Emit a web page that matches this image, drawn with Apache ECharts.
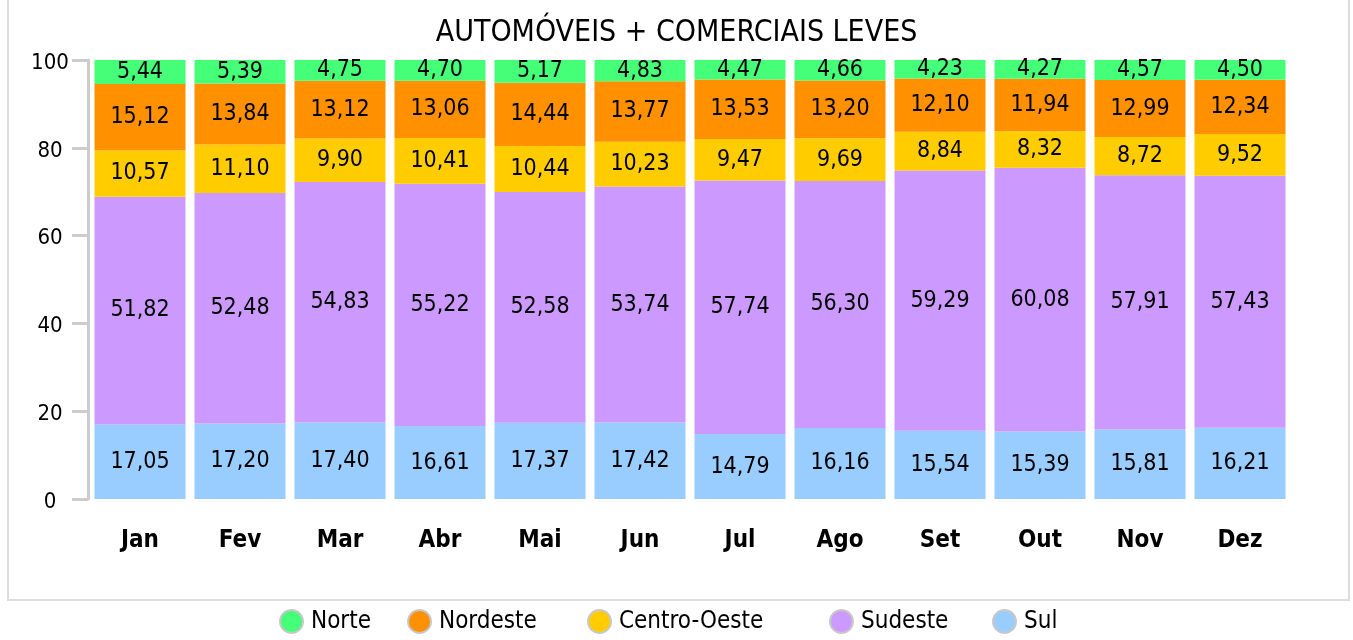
<!DOCTYPE html>
<html>
<head>
<meta charset="utf-8">
<title>Automóveis + Comerciais Leves</title>
<script src="https://cdn.jsdelivr.net/npm/echarts@6/dist/echarts.min.js"></script>
<style>
  html, body { margin: 0; padding: 0; background: #fff; }
  #main { width: 1353px; height: 640px; }
</style>
</head>
<body>
<div id="main"></div>
<script>
// dados (% por região)
const months = ['Jan', 'Fev', 'Mar', 'Abr', 'Mai', 'Jun', 'Jul', 'Ago', 'Set', 'Out', 'Nov', 'Dez']
const norte = [5.44, 5.39, 4.75, 4.70, 5.17, 4.83, 4.47, 4.66, 4.23, 4.27, 4.57, 4.50]
const nordeste = [15.12, 13.84, 13.12, 13.06, 14.44, 13.77, 13.53, 13.20, 12.10, 11.94, 12.99, 12.34]
const centroOeste = [10.57, 11.10, 9.90, 10.41, 10.44, 10.23, 9.47, 9.69, 8.84, 8.32, 8.72, 9.52]
const sudeste = [51.82, 52.48, 54.83, 55.22, 52.58, 53.74, 57.74, 56.30, 59.29, 60.08, 57.91, 57.43]
const sul = [17.05, 17.20, 17.40, 16.61, 17.37, 17.42, 14.79, 16.16, 15.54, 15.39, 15.81, 16.21]

const FONT = '"DejaVu Sans Condensed", "DejaVu Sans", sans-serif'

// empilhado de baixo para cima
const stackOrder = [
  { name: 'Sul', data: sul, color: '#99CCFF' },
  { name: 'Sudeste', data: sudeste, color: '#CC99FF' },
  { name: 'Centro-Oeste', data: centroOeste, color: '#FFCC00' },
  { name: 'Nordeste', data: nordeste, color: '#FF9000' },
  { name: 'Norte', data: norte, color: '#44FF77' }
]

// legenda: um componente por item para acertar o espaçamento
const legendPos = [
  ['Norte', 279],
  ['Nordeste', 407],
  ['Centro-Oeste', 587],
  ['Sudeste', 829],
  ['Sul', 992]
]

const myChart = echarts.init(document.getElementById('main'))

myChart.setOption({
  animation: false,
  textStyle: { fontFamily: FONT },
  title: {
    text: 'AUTOMÓVEIS + COMERCIAIS LEVES',
    left: 'center',
    top: 13,
    textStyle: { fontFamily: FONT, fontSize: 30, fontWeight: 'normal', color: '#000' }
  },
  // moldura cinza
  graphic: [{
    type: 'rect',
    shape: { x: 8, y: -10, width: 1341, height: 610 },
    style: { fill: 'none', stroke: '#dddddd', lineWidth: 2 },
    silent: true
  }],
  legend: legendPos.map(([name, left]) => ({
    left: left,
    top: 609,
    padding: 0,
    icon: 'circle',
    itemWidth: 23,
    itemHeight: 23,
    itemStyle: { borderColor: '#c8c8c8', borderWidth: 2 },
    data: [name],
    textStyle: { fontFamily: FONT, fontSize: 24, color: '#000', padding: [2, 0, 0, 3] }
  })),
  grid: {
    left: 90,
    right: 63,
    top: 60,
    bottom: 141
  },
  xAxis: {
    type: 'category',
    data: months,
    axisLine: { show: false },
    axisTick: { show: false },
    axisLabel: {
      margin: 30,
      color: '#000',
      fontFamily: FONT,
      fontSize: 24,
      fontWeight: 'bold'
    }
  },
  yAxis: {
    type: 'value',
    min: 0,
    max: 100,
    interval: 20,
    offset: 2,
    splitLine: { show: false },
    axisLine: { show: true, lineStyle: { color: '#cccccc', width: 3 } },
    axisTick: { show: true, length: 16, lineStyle: { color: '#cccccc', width: 3 } },
    axisLabel: {
      margin: 38,
      align: 'center',
      verticalAlign: 'top',
      padding: [-8, 0, 0, 0],
      color: '#000',
      fontFamily: FONT,
      fontSize: 22
    }
  },
  series: stackOrder.map(s => ({
    name: s.name,
    type: 'bar',
    stack: 'total',
    barCategoryGap: '9%',
    data: s.data,
    itemStyle: { color: s.color },
    label: {
      show: true,
      position: 'inside',
      color: '#000',
      fontFamily: FONT,
      fontSize: 23,
      formatter: p => p.value.toFixed(2).replace('.', ',')
    }
  }))
})

window.addEventListener('resize', () => {
  myChart.resize()
})
</script>
</body>
</html>
